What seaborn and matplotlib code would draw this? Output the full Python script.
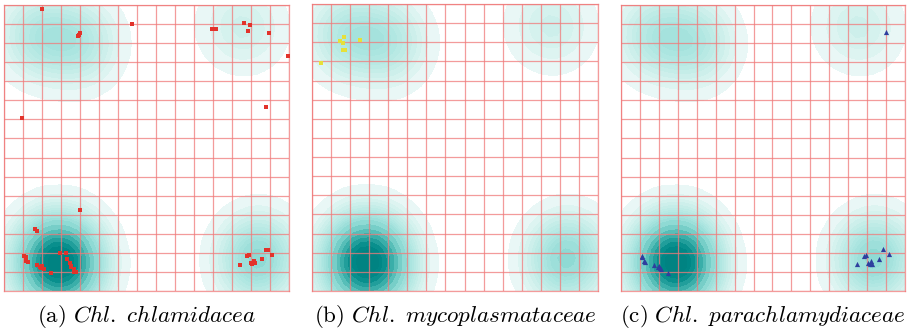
import numpy as np
import pandas as pd
import matplotlib
matplotlib.use("Agg")
import matplotlib.pyplot as plt
from matplotlib.colors import LinearSegmentedColormap
import seaborn as sns

# ---------------- data (grid units, 15 x 15 map) ----------------
# background density centres shared by the three panels
dens_x = [2.3, 3.5, 2.3, 3.5,      1.5, 2.9, 4.3,      12.9, 13.8,   11.9, 13.2]
dens_y = [1.1, 1.1, 1.9, 1.9,      13.4, 13.2, 13.0,   1.6, 1.8,     13.9, 13.8]
dens_w = [0.25, 0.25, 0.25, 0.25,  0.13, 0.12, 0.13,   0.17, 0.17,   0.06, 0.06]

# (a) Chl. chlamidacea
a_x = [2.00, 3.95, 3.90, 3.98, 6.72, 10.96, 11.16, 12.65, 12.95, 12.86, 13.93,
       14.95, 13.79, 0.95, 3.98, 1.65, 1.75,
       1.05, 1.16, 1.16, 1.28, 1.72, 1.89, 2.02, 1.93, 2.12, 2.47, 2.95, 3.25,
       3.30, 3.47, 3.51, 3.53, 3.68, 3.70, 3.77,
       12.40, 12.77, 12.88, 12.98, 13.07, 13.17, 13.21, 13.60, 13.81, 13.88, 14.12]
a_y = [14.77, 13.45, 13.40, 13.55, 13.98, 13.75, 13.75, 14.07, 13.95, 13.63, 13.53,
       12.34, 9.66, 9.07, 4.25, 3.23, 3.16,
       1.84, 1.77, 1.59, 1.50, 1.36, 1.27, 1.33, 1.19, 1.14, 0.93, 1.98, 1.99,
       1.66, 1.45, 1.33, 1.24, 1.14, 1.01, 1.01,
       1.36, 1.82, 1.90, 1.45, 1.42, 1.57, 1.45, 1.68, 2.15, 2.15, 1.90]

# (b) Chl. mycoplasmataceae
b_x = [0.45, 1.49, 1.61, 1.70, 1.64, 1.73, 2.52]
b_y = [11.91, 13.05, 12.97, 13.25, 12.62, 12.62, 13.14]

# (c) Chl. parachlamydiaceae
c_x = [13.98, 1.09, 1.13, 1.20, 1.27, 1.73, 1.96, 2.03, 2.08, 2.13, 2.48,
       12.45, 12.82, 12.93, 13.03, 13.14, 13.23, 13.26, 13.63, 13.86, 14.18]
c_y = [13.58, 1.84, 1.77, 1.57, 1.52, 1.36, 1.28, 1.33, 1.21, 1.15, 0.93,
       1.40, 1.82, 1.91, 1.45, 1.42, 1.57, 1.42, 1.70, 2.19, 1.93]

captions = [r"$\mathrm{(a)}\ \mathit{Chl.\ chlamidacea}$",
            r"$\mathrm{(b)}\ \mathit{Chl.\ mycoplasmataceae}$",
            r"$\mathrm{(c)}\ \mathit{Chl.\ parachlamydiaceae}$"]

# ---------------- styling ----------------
sns.set_style("white")
plt.rcParams["mathtext.fontset"] = "cm"

W, H = 910, 331
fig = plt.figure(figsize=(W / 100, H / 100), dpi=100)

boxes = [(4, 5, 285, 286), (312, 4, 286, 287), (621, 5, 284, 286)]  # px: left, top, w, h
cap_x = [146, 455, 763]

dens = pd.DataFrame({"x": dens_x, "y": dens_y, "w": dens_w})
cmap = LinearSegmentedColormap.from_list(
    "tealmap",
    [(0.0, "#eef9f8"), (0.1, "#cdefeb"), (0.25, "#a9e4df"),
     (0.42, "#86d6d0"), (0.65, "#3aaea9"), (0.85, "#008a88"), (1.0, "#008080")])

panels = [
    (a_x, a_y, "s", "#e2332b", 10),
    (b_x, b_y, "s", "#e6e03a", 10),
    (c_x, c_y, "^", "#2e3f9e", 14),
]

grid_col = "#f07a7a"
for i, (px, py, mk, col, sz) in enumerate(panels):
    l, t, w, h = boxes[i]
    ax = fig.add_axes([l / W, (H - t - h) / H, w / W, h / H])
    sns.kdeplot(data=dens, x="x", y="y", weights="w", fill=True, levels=20,
                thresh=0.03, cmap=cmap, bw_method=0.26, gridsize=36,
                clip=((0, 15), (0, 15)), cut=6, ax=ax, zorder=1)
    sns.scatterplot(x=px, y=py, marker=mk, color=col, s=sz, linewidth=0,
                    ax=ax, zorder=4)
    ax.set_xlim(0, 15)
    ax.set_ylim(0, 15)
    ax.set_xticks(range(16))
    ax.set_yticks(range(16))
    ax.tick_params(length=0, labelbottom=False, labelleft=False)
    ax.grid(True, color=grid_col, lw=0.9, alpha=0.75, zorder=3)
    ax.set_axisbelow(False)
    ax.set_xlabel("")
    ax.set_ylabel("")
    for s in ax.spines.values():
        s.set_color(grid_col)
        s.set_linewidth(0.9)
        s.set_alpha(0.75)
    fig.text(cap_x[i] / W, (H - 322) / H, captions[i], ha="center",
             va="baseline", fontsize=16.6, color="black")

fig.savefig("out.png", dpi=100)
